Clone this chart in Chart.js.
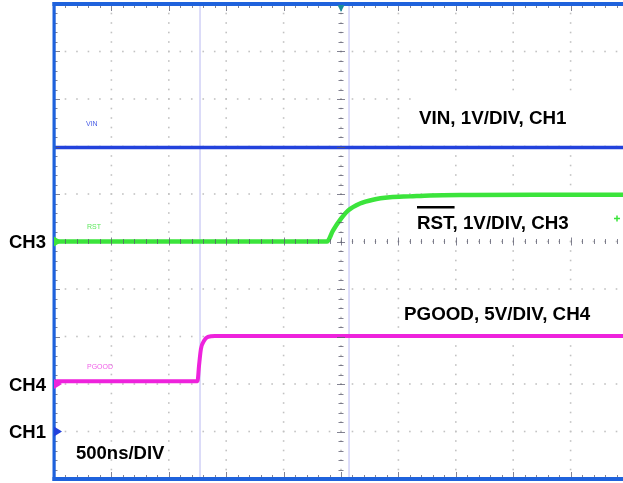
<!DOCTYPE html>
<html><head><meta charset="utf-8">
<script src="https://cdn.jsdelivr.net/npm/chart.js@4/dist/chart.umd.min.js"></script>
<style>html,body{margin:0;padding:0;overflow:hidden;background:#fff}#wrap{width:640px;height:483px}</style>
</head><body><div id="wrap"><canvas id="c" width="640" height="483"></canvas></div>
<script>
// ---- data (scope capture: 500 ns/div, 10 x 10 divisions) ----
const timeDivNs = 500;
const xGridNs = [0, 500, 1000, 1500, 2000, 2500, 3000, 3500, 4000, 4500, 5000];
const yGridDiv = [0, 1, 2, 3, 4, 5, 6, 7, 8, 9, 10];
const channelNames = ['CH1', 'CH3', 'CH4'];
const channelVoltsPerDiv = [1, 1, 5];
const channelGroundDiv = [1, 5, 2];

const vinTimeNs = [0, 5000];
const vinVolts = [5.98, 5.98];

const rstTimeNs = [0, 2378, 2430, 2500, 2561, 2666, 2779, 2927, 3101, 3275, 3624, 4200, 5000];
const rstVolts  = [0, 0, 0.23, 0.48, 0.65, 0.80, 0.88, 0.93, 0.95, 0.97, 0.98, 0.985, 0.985];

const pgoodTimeNs = [0, 1250, 1263, 1280, 1307, 1341, 1402, 5000];
const pgoodVolts  = [0.3, 0.3, 1.9, 3.7, 4.55, 4.95, 5.05, 5.05];

const cursorTimeNs = [1272, 2570];

const toPts = (t, v, ch) => t.map((tt, i) => ({x: tt, y: channelGroundDiv[ch] + v[i] / channelVoltsPerDiv[ch]}));

const colVin = '#2342dc', colRst = '#3be43b', colPg = '#ee22dc', frame = '#1f62dc';

const graticule = {
  id: 'graticule',
  beforeDatasetsDraw(chart) {
    const {ctx, chartArea: a, scales: {x, y}} = chart;
    ctx.save();
    ctx.fillStyle = '#c2c2c2';
    xGridNs.forEach(t => {
      const px = x.getPixelForValue(t);
      for (let j = 0; j <= 50; j++) { const py = y.getPixelForValue(j / 5); ctx.fillRect(px - 0.8, py - 0.8, 1.6, 1.6); }
    });
    yGridDiv.forEach(d => {
      const py = y.getPixelForValue(d);
      for (let i = 0; i <= 50; i++) { const px = x.getPixelForValue(i * timeDivNs / 5); ctx.fillRect(px - 0.8, py - 0.8, 1.6, 1.6); }
    });
    // white boxes behind labels
    ctx.fillStyle = '#ffffff';
    ctx.fillRect(413, 96, 220, 44);
    ctx.fillRect(414, 201, 194, 39);
    ctx.fillRect(400, 296, 230, 32);
    // small channel tags
    ctx.font = '7px "Liberation Sans", Arial';
    ctx.textBaseline = 'alphabetic';
    ctx.fillStyle = '#4a5ee6'; ctx.fillText('VIN', 86, 126);
    ctx.fillStyle = '#5ee85e'; ctx.fillText('RST', 87, 229);
    ctx.fillStyle = '#f060e8'; ctx.fillText('PGOOD', 87, 369);
    ctx.restore();
  },
  afterDatasetsDraw(chart) {
    const {ctx, chartArea: a, scales: {x, y}} = chart;
    ctx.save();
    const cx = x.getPixelForValue(2500), cy = y.getPixelForValue(5);
    // centre axis ticks
    ctx.strokeStyle = 'rgba(90,90,110,0.75)';
    ctx.lineWidth = 1;
    ctx.beginPath();
    for (let j = 0; j <= 50; j++) {
      const py = Math.round(y.getPixelForValue(j / 5)) + 0.5; const L = j % 5 === 0 ? 4 : 2.5;
      ctx.moveTo(cx - L, py); ctx.lineTo(cx + L, py);
    }
    for (let i = 0; i <= 50; i++) {
      const px = Math.round(x.getPixelForValue(i * timeDivNs / 5)) + 0.5; const L = i % 5 === 0 ? 4 : 2.5;
      ctx.moveTo(px, cy - L); ctx.lineTo(px, cy + L);
    }
    // border ticks
    for (let i = 0; i <= 50; i++) {
      const px = Math.round(x.getPixelForValue(i * timeDivNs / 5)) + 0.5; const L = i % 5 === 0 ? 7 : 4;
      ctx.moveTo(px, a.top); ctx.lineTo(px, a.top + L);
      ctx.moveTo(px, a.bottom); ctx.lineTo(px, a.bottom - L);
    }
    for (let j = 0; j <= 50; j++) {
      const py = Math.round(y.getPixelForValue(j / 5)) + 0.5; const L = j % 5 === 0 ? 6 : 3.5;
      ctx.moveTo(a.left, py); ctx.lineTo(a.left + L, py);
    }
    ctx.stroke();
    // frame
    ctx.fillStyle = frame;
    ctx.fillRect(a.left - 1.5, a.top - 2, 3.2, a.bottom - a.top + 4);
    ctx.fillRect(a.left - 1.5, a.top - 2, a.right - a.left + 4, 4);
    ctx.fillRect(a.left - 1.5, a.bottom - 2, a.right - a.left + 4, 4);
    // trigger marker
    ctx.fillStyle = '#1a8c9c';
    ctx.beginPath(); ctx.moveTo(cx - 3.5, a.top + 1); ctx.lineTo(cx + 3.5, a.top + 1); ctx.lineTo(cx, a.top + 8); ctx.closePath(); ctx.fill();
    // channel ground markers
    const mk = [colVin, colRst, colPg];
    channelGroundDiv.forEach((g, k) => {
      const py = y.getPixelForValue(g);
      ctx.fillStyle = mk[k];
      ctx.beginPath(); ctx.moveTo(a.left, py - 5); ctx.lineTo(a.left + 8, py); ctx.lineTo(a.left, py + 5); ctx.closePath(); ctx.fill();
    });
    // green cross
    ctx.strokeStyle = colRst; ctx.lineWidth = 1.5;
    ctx.beginPath(); ctx.moveTo(614, 218.5); ctx.lineTo(620, 218.5); ctx.moveTo(617, 215.5); ctx.lineTo(617, 221.5); ctx.stroke();
    // labels
    ctx.fillStyle = '#000';
    ctx.font = 'bold 18.8px "Liberation Sans", Arial, sans-serif';
    ctx.textBaseline = 'alphabetic';
    ctx.fillText('VIN, 1V/DIV, CH1', 419, 124);
    ctx.fillText('RST, 1V/DIV, CH3', 417, 229);
    const w = ctx.measureText('RST').width;
    ctx.fillRect(417, 206, w, 2.5);
    ctx.fillText('PGOOD, 5V/DIV, CH4', 404, 320);
    ctx.font = 'bold 18.5px "Liberation Sans", Arial, sans-serif';
    ctx.fillText('500ns/DIV', 76, 459);
    ctx.textAlign = 'right';
    channelGroundDiv.forEach((g, k) => {
      const py = y.getPixelForValue(g);
      ctx.fillText(channelNames[k], 46, py + 6.5);
    });
    ctx.restore();
  }
};

new Chart(document.getElementById('c'), {
  type: 'line',
  data: {
    datasets: [
      {label: 'VIN', data: toPts(vinTimeNs, vinVolts, 0), borderColor: colVin, borderWidth: 3.5, pointRadius: 0, tension: 0},
      {label: 'RST', data: toPts(rstTimeNs, rstVolts, 1), borderColor: colRst, borderWidth: 4.5, pointRadius: 0, cubicInterpolationMode: 'monotone'},
      {label: 'PGOOD', data: toPts(pgoodTimeNs, pgoodVolts, 2), borderColor: colPg, borderWidth: 4, pointRadius: 0, cubicInterpolationMode: 'monotone'},
      ...cursorTimeNs.map(t => ({label: 'cursor', data: [{x: t, y: 0}, {x: t, y: 10}], borderColor: '#b9b9f2', borderWidth: 1, pointRadius: 0}))
    ]
  },
  options: {
    responsive: false, animation: false, parsing: true,
    layout: {padding: {left: 54, right: 12, top: 4, bottom: 4}},
    plugins: {legend: {display: false}, tooltip: {enabled: false}},
    scales: {
      x: {type: 'linear', min: 0, max: 5000, display: false},
      y: {type: 'linear', min: 0, max: 10, display: false}
    }
  },
  plugins: [graticule]
});
</script>
</body></html>
